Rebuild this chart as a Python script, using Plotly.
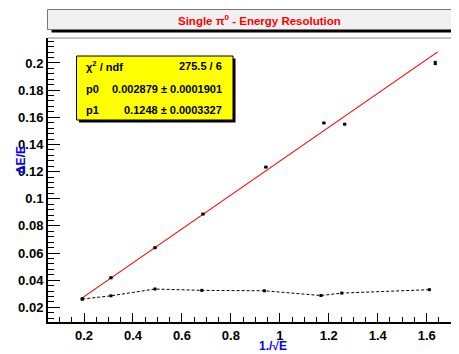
import plotly.graph_objects as go

# ---- data ----
x_fit_pts = [0.193, 0.31, 0.49, 0.686, 0.943, 1.180, 1.265, 1.635]
y_fit_pts = [0.0262, 0.0418, 0.0639, 0.0887, 0.1233, 0.1558, 0.1549, 0.2000]
y_fit_err = [0.0003, 0.0003, 0.0003, 0.0003, 0.0003, 0.0003, 0.0003, 0.0012]

x_low = [0.193, 0.31, 0.49, 0.681, 0.937, 1.168, 1.253, 1.611]
y_low = [0.0261, 0.0285, 0.0335, 0.0325, 0.0322, 0.0287, 0.0305, 0.0330]

p0, p0_err = 0.002879, 0.0001901
p1, p1_err = 0.1248, 0.0003327
chi2_text = "275.5 / 6"
fit_range = [0.193, 1.645]

x_range = [0.0529, 1.732]
y_range = [0.0092, 0.2184]

# page body has an 8px margin; work in window pixels and convert
OFF = 8
WIN_W, WIN_H = 459, 354
W, H = WIN_W - OFF, WIN_H - OFF
PL, PT, PR, PB = 48, 38, 459, 322          # plot area in window pixels
ML, MT = PL - OFF, PT - OFF
MR, MB = (WIN_W - PR), (WIN_H - PB)
PW, PH = PR - PL, PB - PT


def px(xp):
    return (xp - PL) / PW


def py(yp):
    return (PB - yp) / PH


fig = go.Figure()

fit_x = list(fit_range)
fit_y = [p0 + p1 * v for v in fit_x]
fig.add_trace(go.Scatter(x=fit_x, y=fit_y, mode="lines",
                         line=dict(color="#ff0000", width=1.2), hoverinfo="skip"))

fig.add_trace(go.Scatter(x=x_low, y=y_low, mode="lines+markers",
                         line=dict(color="black", width=1, dash="3px,2px"),
                         marker=dict(symbol="square", size=3, color="black")))

fig.add_trace(go.Scatter(x=x_fit_pts, y=y_fit_pts, mode="markers",
                         marker=dict(symbol="square", size=3, color="black"),
                         error_y=dict(type="data", array=y_fit_err, color="black",
                                      thickness=1, width=1.5)))

font_b = dict(family="Liberation Sans, Arial, sans-serif", size=13, color="black", weight="bold")

fig.update_layout(
    width=W, height=H,
    margin=dict(l=ML, r=MR, t=MT, b=MB, autoexpand=False),
    paper_bgcolor="white", plot_bgcolor="white",
    showlegend=False,
    xaxis=dict(range=x_range, showgrid=False, zeroline=False,
               showline=True, linecolor="black", linewidth=2,
               ticks="inside", ticklen=9, tickwidth=1, tickcolor="black",
               tick0=0.2, dtick=0.2, tickformat="~g",
               tickfont=font_b,
               minor=dict(ticks="inside", ticklen=5, dtick=0.05, tick0=0.2, tickcolor="black", showgrid=False)),
    yaxis=dict(range=y_range, showgrid=False, zeroline=False,
               showline=True, linecolor="black", linewidth=2,
               ticks="inside", ticklen=12, tickwidth=1, tickcolor="black",
               tick0=0.02, dtick=0.02, tickformat="~g",
               tickfont=font_b,
               minor=dict(ticks="inside", ticklen=6, dtick=0.004, tick0=0.02, tickcolor="black", showgrid=False)),
)

shapes = []
shapes.append(dict(type="line", xref="paper", yref="paper", x0=0, x1=1, y0=1, y1=1,
                   line=dict(color="#888888", width=1)))
shapes.append(dict(type="rect", xref="paper", yref="paper",
                   x0=px(51.5), x1=px(470), y0=py(32.5), y1=py(28),
                   fillcolor="black", line=dict(width=0), layer="above"))
shapes.append(dict(type="rect", xref="paper", yref="paper",
                   x0=px(47.5), x1=px(470), y0=py(29.5), y1=py(9.5),
                   fillcolor="#f0f0f0", line=dict(color="#777777", width=1), layer="above"))
shapes.append(dict(type="rect", xref="paper", yref="paper",
                   x0=px(79), x1=px(235.5), y0=py(122.5), y1=py(58.5),
                   fillcolor="black", line=dict(width=0), layer="above"))
shapes.append(dict(type="rect", xref="paper", yref="paper",
                   x0=px(76.5), x1=px(233), y0=py(120), y1=py(56),
                   fillcolor="#ffff00", line=dict(color="black", width=1), layer="above"))
fig.update_layout(shapes=shapes)

ann = []
ann.append(dict(text="Single \u03c0<sup>0</sup> - Energy Resolution", xref="paper", yref="paper",
                x=px(259), y=py(20), showarrow=False, xanchor="center", yanchor="middle",
                font=dict(family="Liberation Sans, Arial", size=11.5, color="#ff0000", weight="bold")))
stat_font = dict(family="Liberation Sans, Arial", size=11, color="black", weight="bold")
rows = [("\u03c7<sup>2</sup> / ndf", chi2_text, 66),
        ("p0", f"{p0:g} \u00b1 {p0_err:g}", 89),
        ("p1", f"{p1:g} \u00b1 {p1_err:.7f}".rstrip("0"), 110)]
for lab, val, yy in rows:
    ann.append(dict(text=lab, xref="paper", yref="paper", x=px(84), y=py(yy),
                    showarrow=False, xanchor="left", yanchor="middle", font=stat_font))
    ann.append(dict(text=val, xref="paper", yref="paper", x=px(224), y=py(yy),
                    showarrow=False, xanchor="right", yanchor="middle", font=stat_font))
ann.append(dict(text="\u0394E/E", xref="paper", yref="paper", x=px(21), y=py(160),
                textangle=-90, showarrow=False, xanchor="center", yanchor="middle",
                font=dict(family="Liberation Sans, Arial", size=12, color="#0000ff", weight="bold")))
ann.append(dict(text="1./\u221aE", xref="paper", yref="paper", x=px(273), y=py(346),
                showarrow=False, xanchor="center", yanchor="middle",
                font=dict(family="Liberation Sans, Arial", size=12, color="#0000ff", weight="bold")))
fig.update_layout(annotations=ann)

fig.write_html("out.html")
